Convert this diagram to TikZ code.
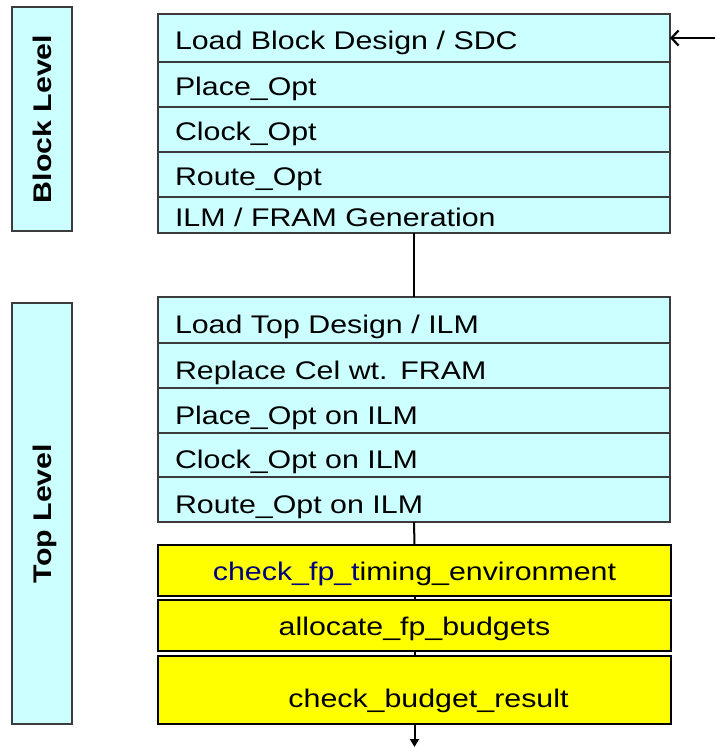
\documentclass[tikz,border=0pt]{standalone}
\usepackage{fontspec}
\usetikzlibrary{positioning,arrows.meta}

\newfontfamily\boxfont[FakeStretch=1.19]{Liberation Sans}
\newcommand{\stagefont}{\boxfont\fontsize{25.5pt}{28pt}\selectfont}

\definecolor{cyanfill}{RGB}{204,255,255}
\definecolor{edgegray}{RGB}{60,60,60}
\definecolor{budgetyellow}{RGB}{255,255,0}
\definecolor{fpnavy}{RGB}{0,0,128}

\tikzset{
  stage/.style={draw=edgegray, line width=1.3pt, fill=cyanfill, outer sep=0pt,
    text width=478pt, inner xsep=17pt, inner ysep=0pt, align=left,
    text depth=0pt, font=\stagefont},
  blockstage/.style={stage, text height=22pt},
  topstage/.style={stage, text height=27pt},
  budget/.style={draw=black, line width=1.6pt, fill=budgetyellow, outer sep=0pt,
    text width=479pt, inner xsep=17pt, inner ysep=0pt, align=center,
    text height=20pt, text depth=0pt, font=\stagefont},
  levelbox/.style={draw=edgegray, line width=1.3pt, fill=cyanfill, rotate=90,
    inner sep=0pt, minimum height=60pt, text height=18pt, text depth=0pt,
    font=\stagefont\bfseries},
  flow/.style={line width=2pt, draw=black},
}

\begin{document}
\begin{tikzpicture}[x=1pt,y=-1pt]
\useasboundingbox (0,0) rectangle (715,747);

% level labels
\node[levelbox, minimum width=224pt] (blocklevel) at (42,119) {Block Level};
\node[levelbox, minimum width=421pt] (toplevel) at (42,513.5) {Top Level};

% block level stages
\node[blockstage, minimum height=48pt, anchor=north west] (b1) at (158,14) {Load Block Design / SDC};
\node[blockstage, minimum height=45pt, below=0pt of b1] (b2) {Place\_Opt};
\node[blockstage, minimum height=45pt, below=0pt of b2] (b3) {Clock\_Opt};
\node[blockstage, minimum height=45pt, below=0pt of b3] (b4) {Route\_Opt};
\node[blockstage, minimum height=36pt, below=0pt of b4] (b5) {ILM / FRAM Generation};

% top level stages
\node[topstage, minimum height=46pt, anchor=north west] (t1) at (158,297) {Load Top Design / ILM};
\node[topstage, minimum height=45pt, below=0pt of t1] (t2) {Replace Cel wt. FRAM};
\node[topstage, minimum height=45pt, below=0pt of t2] (t3) {Place\_Opt on ILM};
\node[topstage, minimum height=44pt, below=0pt of t3] (t4) {Clock\_Opt on ILM};
\node[topstage, minimum height=45pt, below=0pt of t4] (t5) {Route\_Opt on ILM};

% budgeting commands
\node[budget, minimum height=51pt, anchor=north west] (y1) at (158,545)
  {{\color{fpnavy}check\_fp\_t}iming\_environment};
\node[budget, minimum height=51pt, below=4pt of y1] (y2) {allocate\_fp\_budgets};
\node[budget, minimum height=68pt, below=5pt of y2] (y3)
  {\raisebox{-7pt}{\hspace*{28pt}check\_budget\_result}};

% connectors
\coordinate (in) at (715,38);
\coordinate (out) at (414.5,747);
\draw[flow, line width=1.8pt, -{Straight Barb[length=7pt,width=15pt,line width=2.2pt]}] (in) -- (b1.east);
\draw[flow] (b5.south) -- (t1.north);
\draw[flow] (t5.south) -- (y1.north);
\draw[flow] (y1.south) -- (y2.north);
\draw[flow] (y2.south) -- (y3.north);
\draw[flow, -{Triangle[length=8pt,width=9pt]}] (y3.south) -- (out);

\end{tikzpicture}
\end{document}
